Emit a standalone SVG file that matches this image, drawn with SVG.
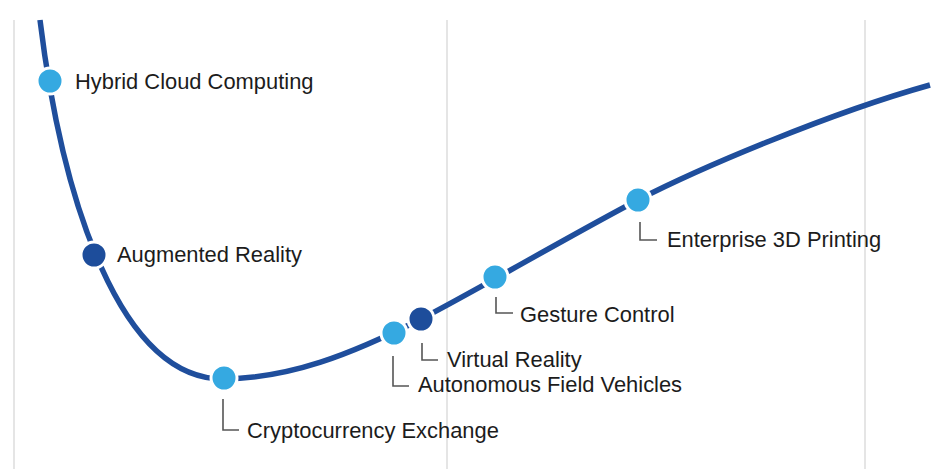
<svg xmlns="http://www.w3.org/2000/svg" width="940" height="469" viewBox="0 0 940 469">
<style>
.grid{stroke:#dcdcdc;stroke-width:1.5;fill:none}
.curve{stroke:#1f4e9c;stroke-width:5.5;fill:none;stroke-linecap:butt}
.light{fill:#35a9e1;stroke:#fff;stroke-width:3}
.dark{fill:#1d4d9b;stroke:#fff;stroke-width:3}
.lead{stroke:#555;stroke-width:1.6;fill:none}
text{font-family:"Liberation Sans",Arial,sans-serif;font-size:21.9px;fill:#1c1c1c}
</style>
<rect width="940" height="469" fill="#fff"/>
<g id="grid">
<line class="grid" x1="14" y1="20" x2="14" y2="469"/>
<line class="grid" x1="447" y1="20" x2="447" y2="469"/>
<line class="grid" x1="865" y1="20" x2="865" y2="469"/>
</g>
<g id="connectors">
<path class="curve" d="M40,20 C62,200 120,380 224,379 C290,378 350,355 421,319 C470,294 580,230 638,200 C700,168 830,113 930,85"/>
<path class="lead" d="M223,399 V430 H239"/>
<path class="lead" d="M393,356 V386 H409"/>
<path class="lead" d="M422,343 V360 H438"/>
<path class="lead" d="M496,297 V313 H513"/>
<path class="lead" d="M640,222 V240 H657"/>
</g>
<g id="hybrid"><circle class="light" cx="50" cy="81" r="13"/><text x="75" y="89">Hybrid Cloud Computing</text></g>
<g id="ar"><circle class="dark" cx="94" cy="255" r="13"/><text x="117" y="262">Augmented Reality</text></g>
<g id="crypto"><circle class="light" cx="224" cy="378" r="13"/><text x="247" y="438">Cryptocurrency Exchange</text></g>
<g id="afv"><circle class="light" cx="394" cy="333" r="13"/><text x="418" y="392">Autonomous Field Vehicles</text></g>
<g id="vr"><circle class="dark" cx="421" cy="319" r="13"/><text x="447" y="367">Virtual Reality</text></g>
<g id="gesture"><circle class="light" cx="495" cy="277" r="13"/><text x="520" y="322">Gesture Control</text></g>
<g id="printing"><circle class="light" cx="638" cy="200" r="13"/><text x="667" y="247">Enterprise 3D Printing</text></g>
</svg>
